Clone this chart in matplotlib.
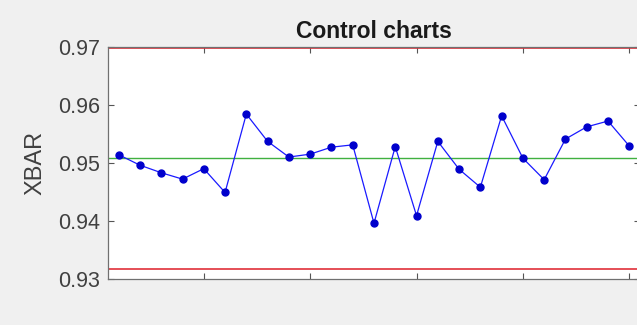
import matplotlib.pyplot as plt
import numpy as np

# subgroup means
sample = np.arange(1, 26)
xbar = [0.9514, 0.9496, 0.9483, 0.9472, 0.9490, 0.9449, 0.9584, 0.9537, 0.9510, 0.9515,
        0.9527, 0.9531, 0.9396, 0.9528, 0.9409, 0.9537, 0.9489, 0.9458, 0.9581, 0.9508,
        0.9471, 0.9541, 0.9562, 0.9572, 0.9529]

center = 0.9508
ucl = 0.9698
lcl = 0.9318

plt.rcParams["font.family"] = ["Liberation Sans", "DejaVu Sans"]

fig = plt.figure(figsize=(6.37, 3.25), dpi=100, facecolor="#f0f0f0")
ax = fig.add_axes([0.1696, 0.1415, 0.835, 0.7148])
ax.set_facecolor("white")

ax.axhline(ucl, color="#e0303a", lw=1.2)
ax.axhline(lcl, color="#e0303a", lw=1.2)
ax.axhline(center, color="#40b040", lw=1.0)
ax.plot(sample, xbar, "-", color="#1a1aff", lw=0.9)
ax.plot(sample, xbar, "o", color="#0000cc", ms=5)

ax.set_xlim(0.5, 25.5)
ax.set_ylim(0.93, 0.97)
ax.set_xticks([5, 10, 15, 20, 25])
ax.set_xticklabels([])
ax.set_yticks([0.93, 0.94, 0.95, 0.96, 0.97])
ax.set_yticklabels(["0.93", "0.94", "0.95", "0.96", "0.97"])
ax.tick_params(direction="in", top=True, right=True, length=4, width=0.8,
               color="#555555", labelsize=15.5, labelcolor="#404040", pad=6)
for s in ax.spines.values():
    s.set_color("#707070")
    s.set_linewidth(0.9)

ax.set_ylabel("XBAR", fontsize=17, color="#404040", labelpad=8)
ax.set_title("Control charts", fontsize=16.5, fontweight="bold", color="#1a1a1a", pad=6)

fig.savefig("out.png", dpi=100, facecolor=fig.get_facecolor())
